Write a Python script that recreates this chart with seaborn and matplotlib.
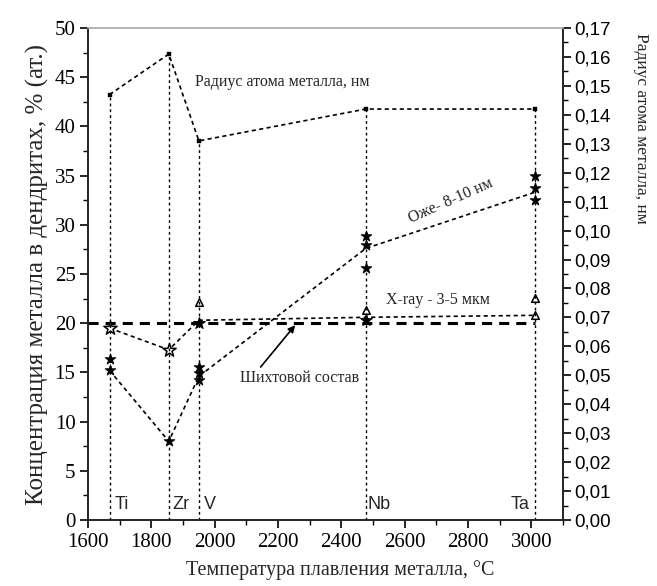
import matplotlib
matplotlib.use("Agg")
import numpy as np
import pandas as pd
import seaborn as sns
import matplotlib.pyplot as plt
from matplotlib.ticker import MultipleLocator, FuncFormatter

# ---------------- data ----------------
metals = ["Ti", "Zr", "V", "Nb", "Ta"]
melt_temp = [1668, 1855, 1950, 2477, 3010]
atomic_radius = [0.147, 0.161, 0.131, 0.142, 0.142]          # nm (right axis)

auger_line = [15.2, 8.0, 14.6, 27.6, 33.3]                    # Оже 8-10 нм
auger_pts_temp = [1668, 1668, 1855, 1950, 1950, 1950, 2477, 2477, 2477, 3010, 3010, 3010]
auger_pts_val = [16.4, 15.2, 8.0, 15.6, 14.9, 14.2, 28.9, 27.9, 25.6, 35.0, 33.7, 32.5]

xray_line = [19.5, 17.3, 20.3, 20.6, 20.8]                    # X-ray 3-5 мкм
xray_open_star_temp = [1668, 1855]
xray_open_star_val = [19.5, 17.3]
xray_filled_star_temp = [1950, 2477]
xray_filled_star_val = [20.0, 20.3]
xray_tri_temp = [1950, 2477, 3010, 3010]
xray_tri_val = [22.2, 21.3, 22.6, 20.8]

charge_composition = 20.0                                     # Шихтовой состав

# ---------------- style ----------------
sns.set_theme(style="ticks")
plt.rcParams["font.family"] = ["Liberation Serif", "DejaVu Serif"]
plt.rcParams["axes.linewidth"] = 1.3
serif = ["Liberation Serif", "DejaVu Serif"]
sans = ["Liberation Sans", "DejaVu Sans"]

fig = plt.figure(figsize=(6.57, 5.86), dpi=100)
fig.patch.set_facecolor("white")
ax = fig.add_axes([0.134, 0.1126, 0.723, 0.8396])
ax2 = ax.twinx()

thin = (0, (2.5, 2.0))
drop = (0, (2.0, 2.2))
heavy = (0, (3.3, 2.3))

# vertical drop lines from radius points
ax2.vlines(melt_temp, 0, atomic_radius, colors="black", linestyles=drop, linewidth=1.0)

# radius series
rad_df = pd.DataFrame({"T": melt_temp, "r": atomic_radius})
sns.lineplot(data=rad_df, x="T", y="r", ax=ax2, sort=False, color="black",
             linewidth=1.2, legend=False)
ax2.lines[-1].set_linestyle(thin)
sns.scatterplot(data=rad_df, x="T", y="r", ax=ax2, marker="s", s=12,
                color="black", edgecolor="black", legend=False, zorder=5)

# charge composition heavy dashed line
ax.hlines(charge_composition, 1600, melt_temp[-1], colors="black",
          linestyles=heavy, linewidth=2.2, zorder=2)

# Auger series
aug_df = pd.DataFrame({"T": melt_temp, "c": auger_line})
sns.lineplot(data=aug_df, x="T", y="c", ax=ax, sort=False, color="black",
             linewidth=1.2, legend=False)
ax.lines[-1].set_linestyle(thin)
augp = pd.DataFrame({"T": auger_pts_temp, "c": auger_pts_val})
sns.scatterplot(data=augp, x="T", y="c", ax=ax, marker="*", s=65,
                color="black", edgecolor="black", legend=False, zorder=5)

# X-ray series
xr_df = pd.DataFrame({"T": melt_temp, "c": xray_line})
sns.lineplot(data=xr_df, x="T", y="c", ax=ax, sort=False, color="black",
             linewidth=1.2, legend=False)
ax.lines[-1].set_linestyle(thin)
sns.scatterplot(x=xray_open_star_temp, y=xray_open_star_val, ax=ax, marker="*",
                s=100, facecolor="white", edgecolor="black", linewidth=1.1,
                legend=False, zorder=6)
sns.scatterplot(x=xray_filled_star_temp, y=xray_filled_star_val, ax=ax, marker="*",
                s=80, color="black", edgecolor="black", legend=False, zorder=6)
sns.scatterplot(x=xray_tri_temp, y=xray_tri_val, ax=ax, marker="^",
                s=30, facecolor="white", edgecolor="black", linewidth=1.1,
                legend=False, zorder=6)

# ---------------- axes ----------------
ax.set_xlim(1600, 3100)
ax.set_ylim(0, 50)
ax2.set_ylim(0, 0.17)
ax.xaxis.set_major_locator(MultipleLocator(200))
ax.xaxis.set_minor_locator(MultipleLocator(100))
ax.yaxis.set_major_locator(MultipleLocator(5))
ax.yaxis.set_minor_locator(MultipleLocator(2.5))
ax2.yaxis.set_major_locator(MultipleLocator(0.01))
ax2.yaxis.set_minor_locator(MultipleLocator(0.005))
ax2.yaxis.set_major_formatter(FuncFormatter(lambda v, p: f"{v:.2f}".replace(".", ",")))

for a in (ax, ax2):
    a.tick_params(which="major", direction="out", length=6, width=1.2, colors="black")
    a.tick_params(which="minor", direction="out", length=3.5, width=1.0, colors="black")
ax.tick_params(axis="both", labelsize=15)
ax.tick_params(axis="y", pad=3)
for lab in ax.get_xticklabels() + ax.get_yticklabels():
    lab.set_family(serif)
ax2.tick_params(axis="y", labelsize=13.5, pad=2)
for lab in ax2.get_yticklabels():
    lab.set_family(sans)

for a in (ax, ax2):
    a.spines["top"].set_color("#b5b5b5")
    a.spines["top"].set_linewidth(1.2)
    a.set_facecolor("none")

ax.set_xlabel("Температура плавления металла, °C", fontsize=14.5, family=serif,
              va="center")
ax.xaxis.set_label_coords(0.532, -0.102)
ax.set_ylabel("Концентрация металла в дендритах, % (ат.)", fontsize=18, family=serif, labelpad=4)
ax2.set_ylabel("Радиус атома металла, нм", fontsize=12.5, family=serif, rotation=270,
               va="center")
ax2.yaxis.set_label_coords(1.165, 0.795)

# ---------------- annotations ----------------
ax.text(1938, 44.5, "Радиус атома металла, нм", fontsize=11.5, family=serif,
        ha="left", va="center")
ax.text(2745, 32.4, "Оже- 8-10 нм", fontsize=11.5, family=serif,
        ha="center", va="center", rotation=24)
ax.text(2540, 22.4, "X-ray - 3-5 мкм", fontsize=11.5, family=serif,
        ha="left", va="center")
ax.annotate("Шихтовой состав", xy=(2254, 19.8), xytext=(2080, 14.4),
            fontsize=11.5, family=serif, ha="left", va="center",
            arrowprops=dict(arrowstyle="-|>", color="black", lw=1.2,
                            shrinkA=0, shrinkB=0, mutation_scale=10,
                            relpos=(0.15, 1.0)))

label_pos = [(1685, "left"), (1866, "left"), (1967, "left"), (2484, "left"), (2993, "right")]
for m, (xp, ha) in zip(metals, label_pos):
    ax.text(xp, 1.6, m, fontsize=13, family=sans, ha=ha, va="center")

fig.savefig("out.png", dpi=100, facecolor="white")
